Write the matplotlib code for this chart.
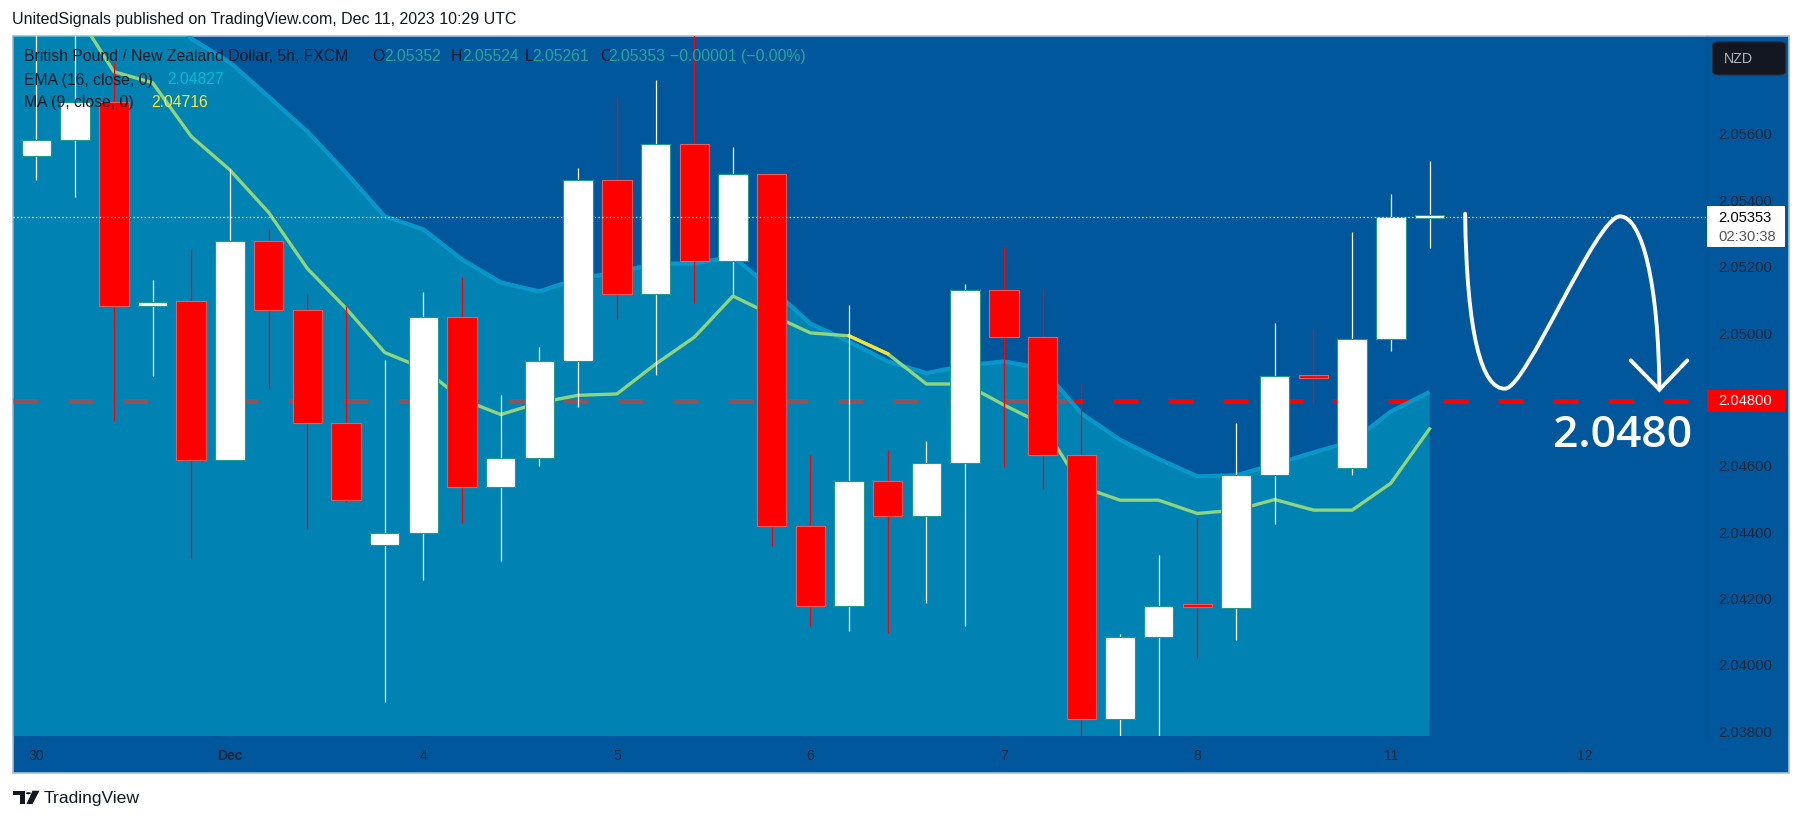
import numpy as np
import matplotlib
matplotlib.use("Agg")
import matplotlib.pyplot as plt
import matplotlib.transforms as mtransforms
from matplotlib.patches import Rectangle, FancyBboxPatch, Polygon, PathPatch, Circle
from matplotlib.path import Path

# GBPNZD 5h candles, FXCM
opens = [2.05539, 2.05586, 2.05702, 2.05087, 2.05102, 2.04621, 2.05282, 2.05073, 2.04734, 2.04365,
         2.04403, 2.05052, 2.04542, 2.04629, 2.04921, 2.05465, 2.05121, 2.05573, 2.05222, 2.05485,
         2.04422, 2.04183, 2.04558, 2.04452, 2.04614, 2.05134, 2.04993, 2.04637, 2.03841, 2.04090,
         2.04185, 2.04175, 2.04577, 2.04875, 2.04597, 2.04987, 2.05352]
highs = [2.05950, 2.05950, 2.05820, 2.05165, 2.05259, 2.05499, 2.05319, 2.05122, 2.05086, 2.04922,
         2.05127, 2.05173, 2.04817, 2.04964, 2.05503, 2.05715, 2.05768, 2.05950, 2.05564, 2.05485,
         2.04636, 2.05090, 2.04652, 2.04679, 2.05151, 2.05265, 2.05137, 2.04855, 2.04099, 2.04336,
         2.04447, 2.04733, 2.05036, 2.05016, 2.05310, 2.05422, 2.05524]
lows = [2.05465, 2.05415, 2.04739, 2.04875, 2.04325, 2.04621, 2.04835, 2.04414, 2.04495, 2.03893,
        2.04259, 2.04431, 2.04317, 2.04605, 2.04782, 2.05046, 2.04878, 2.05095, 2.05121, 2.04363,
        2.04121, 2.04107, 2.04102, 2.04190, 2.04121, 2.04602, 2.04535, 2.03770, 2.03790, 2.03780,
        2.04027, 2.04079, 2.04429, 2.04795, 2.04577, 2.04951, 2.05261]
closes = [2.05586, 2.05702, 2.05087, 2.05099, 2.04621, 2.05282, 2.05073, 2.04734, 2.04501, 2.04403,
          2.05052, 2.04542, 2.04629, 2.04921, 2.05465, 2.05121, 2.05573, 2.05222, 2.05485, 2.04422,
          2.04183, 2.04558, 2.04452, 2.04614, 2.05134, 2.04993, 2.04637, 2.03841, 2.04090, 2.04183,
          2.04178, 2.04577, 2.04874, 2.04869, 2.04987, 2.05353, 2.05353]

ema16 = [2.0636, 2.0627, 2.0617, 2.0604, 2.05892, 2.0582, 2.05717, 2.05612, 2.05488, 2.05356,
         2.05317, 2.05226, 2.05157, 2.0513, 2.05169, 2.05187, 2.05214, 2.05214, 2.05235, 2.05139,
         2.05033, 2.04979, 2.04919, 2.04884, 2.04907, 2.04919, 2.04898, 2.04763, 2.04683, 2.04625,
         2.04573, 2.04576, 2.04609, 2.04645, 2.04678, 2.04768, 2.04827]
ma9 = [2.0601, 2.05976, 2.05792, 2.05759, 2.05597, 2.05496, 2.05368, 2.05199, 2.05079, 2.04946,
       2.04898, 2.04805, 2.04759, 2.04795, 2.04817, 2.04821, 2.04911, 2.04992, 2.05116, 2.05059,
       2.05005, 2.04996, 2.04942, 2.04851, 2.04851, 2.04788, 2.0473, 2.04542, 2.04501, 2.04501,
       2.04461, 2.04471, 2.04503, 2.04471, 2.04471, 2.04552, 2.04716]

day_ticks = [0, 5, 10, 15, 20, 25, 30, 35, 40]
day_labels = ["30", "Dec", "4", "5", "6", "7", "8", "11", "12"]
price_ticks = [2.038, 2.040, 2.042, 2.044, 2.046, 2.048, 2.050, 2.052, 2.054, 2.056]
target = 2.048
countdown = "02:30:38"

W, H = 1803, 821
BG = "#00579c"
DARK = "#131722"
AXCOL = "#1a2436"
FONT = "Liberation Sans"

def fx(px):
    return px / W

def fy(py):
    return 1 - py / H

fig = plt.figure(figsize=(W / 100, H / 100), dpi=100)
fig.patch.set_facecolor("white")

# chart frame
fig.add_artist(Rectangle((fx(12.7), fy(773)), fx(1789) - fx(12.7), fy(36) - fy(773),
                         transform=fig.transFigure, fc=BG, ec="#a9bfd8", lw=1.2, zorder=-5))

ax = fig.add_axes([fx(13), fy(735.5), fx(1707) - fx(13), fy(36.5) - fy(735.5)])
ax.set_facecolor("none")
for s in ax.spines.values():
    s.set_visible(False)
ax.spines["right"].set_visible(True)
ax.spines["right"].set_color("#0a4f8e")
ax.spines["right"].set_linewidth(1)

x = np.arange(len(closes))
x0, x1 = -0.605, 43.17
y0, y1 = 2.03792, 2.05898
ax.set_xlim(x0, x1)
ax.set_ylim(y0, y1)

# target level
ax.axhline(target, color="#ff0000", lw=3.6, ls=(0, (5.0, 6.0)), zorder=1)

# EMA band
xe = np.r_[x0, x]
ye = np.r_[ema16[0], ema16]
ax.fill_between(xe, ye, 2.03, color=(0, 185 / 255, 207 / 255), alpha=0.45, lw=0, zorder=2)
ax.plot(xe, ye, color="#0a9ccf", lw=3, alpha=0.9, zorder=3, solid_capstyle="butt")

# MA line (one leg shown yellow)
ax.plot(x, ma9, color="#8fd47e", lw=2.4, zorder=4)
ax.plot(x[21:23], ma9[21:23], color="#f2e23a", lw=2.4, zorder=4.5)

# candles
bw = 0.76
for i in range(len(closes)):
    o, h, l, c = opens[i], highs[i], lows[i], closes[i]
    up = c >= o
    col = "white" if up else "#ff0000"
    ec = "#1d9a8c" if up else "#f25a5a"
    ax.vlines(i, l, h, color=col, lw=0.9, zorder=5)
    bot = min(o, c)
    hgt = max(abs(c - o), 0.00009)
    ax.add_patch(Rectangle((i - bw / 2, bot), bw, hgt, fc=col, ec=ec, lw=0.8, zorder=6))

# last price line
last = closes[-1]
ax.axhline(last, color="white", lw=0.9, ls=(0, (1, 2)), zorder=8)

# hand drawn projection
verts = [(36.92, 2.05364), (36.96, 2.05000), (37.35, 2.04835), (37.95, 2.04837),
         (38.50, 2.04837), (40.30, 2.05356), (40.92, 2.05356),
         (41.50, 2.05356), (41.92, 2.05150), (41.94, 2.04834)]
codes = [Path.MOVETO] + [Path.CURVE4] * 9
ax.add_patch(PathPatch(Path(verts, codes), fc="none", ec="white", lw=2.8,
                       capstyle="round", zorder=9))
ax.plot([41.20, 41.94, 42.66], [2.04922, 2.04834, 2.04922], color="white", lw=2.8,
        solid_capstyle="round", solid_joinstyle="miter", zorder=9)
ax.text(41.0, 2.04661, "2.0480", fontsize=32, color="white", ha="center", va="baseline",
        family="Open Sans", weight="semibold", zorder=9)

# time axis
ax.set_yticks([])
ax.set_xticks(day_ticks)
ax.set_xticklabels(day_labels, color=AXCOL, family=FONT, fontsize=10)
ax.tick_params(axis="x", length=0, pad=9.5, labelcolor=AXCOL)
ax.get_xticklabels()[1].set_fontweight("bold")

# price scale
bt = mtransforms.blended_transform_factory(fig.transFigure, ax.transData)
for p in price_ticks:
    fig.text(fx(1718), p, "%.5f" % p, transform=bt, fontsize=10.6, color=AXCOL,
             va="center", family=FONT, zorder=2)

pxp = (y1 - y0) / 699.0
fig.add_artist(Rectangle((fx(1706.5), last - 30 * pxp), fx(1784.5) - fx(1706.5), 41.5 * pxp,
                         transform=bt, fc="white", ec="none", zorder=3))
fig.text(fx(1718), last - 0.5 * pxp, "%.5f" % last, transform=bt, fontsize=10.6, color="black",
         va="center", family=FONT, zorder=4)
fig.text(fx(1718), last - 19.5 * pxp, countdown, transform=bt, fontsize=10.6, color="#555555",
         va="center", family=FONT, zorder=4)
fig.add_artist(Rectangle((fx(1706.5), target - 11 * pxp), fx(1784.5) - fx(1706.5), 21.5 * pxp,
                         transform=bt, fc="#ff0000", ec="none", zorder=3))
fig.text(fx(1718), target, "%.5f" % target, transform=bt, fontsize=10.6, color="white",
         va="center", family=FONT, zorder=4)

fig.add_artist(FancyBboxPatch((fx(1712.7), fy(75)), fx(1785.7) - fx(1712.7), fy(41.7) - fy(75),
                              boxstyle="round,pad=0,rounding_size=0.004",
                              transform=fig.transFigure, fc=DARK, ec="#2a2e39", lw=0.8, zorder=3))
fig.text(fx(1724), fy(59), "NZD", fontsize=10.2, color="#b2b5be", va="center", family=FONT, zorder=4)

# legend
lf = dict(fontsize=11.3, va="center", family=FONT)
teal = "#26a69a"
fig.text(fx(24.3), fy(56.7), "British Pound / New Zealand Dollar, 5h, FXCM", color=DARK, **lf)
for lab, lx, val, vx in [("O", 372.7, opens[-1], 384.6), ("H", 450.6, highs[-1], 462),
                         ("L", 525, lows[-1], 532.7), ("C", 600, closes[-1], 608.5)]:
    fig.text(fx(lx), fy(56.7), lab, color=DARK, **lf)
    fig.text(fx(vx), fy(56.7), "%.5f" % val, color=teal, **lf)
chg = closes[-1] - opens[-1]
fig.text(fx(670.5), fy(56.7), "\u2212%.5f (\u2212%.2f%%)" % (abs(chg), abs(chg) / opens[-1] * 100),
         color=teal, **lf)
fig.text(fx(24.3), fy(80), "EMA (16, close, 0)", color=DARK, **lf)
fig.text(fx(167.7), fy(80), "%.5f" % ema16[-1], color="#00bcd4", **lf)
fig.text(fx(24.3), fy(102.7), "MA (9, close, 0)", color=DARK, **lf)
fig.text(fx(151.7), fy(102.7), "%.5f" % ma9[-1], color="#ffeb3b", **lf)

# header / footer
fig.text(fx(12.5), fy(19.5), "UnitedSignals published on TradingView.com, Dec 11, 2023 10:29 UTC",
         fontsize=11.5, color=DARK, va="center", family=FONT)
fig.add_artist(Polygon([(fx(13.3), fy(790.7)), (fx(25), fy(790.7)), (fx(25), fy(804)), (fx(20), fy(804)),
                        (fx(20), fy(795.2)), (fx(13.3), fy(795.2))], closed=True,
                       transform=fig.transFigure, fc=DARK, ec="none"))
fig.add_artist(Circle((fx(28.4), fy(793.2)), 2.4 / W, transform=fig.transFigure, fc=DARK, ec="none"))
fig.add_artist(Polygon([(fx(32.5), fy(790.7)), (fx(39.5), fy(790.7)), (fx(32.5), fy(804)),
                        (fx(26.5), fy(804))],
                       closed=True, transform=fig.transFigure, fc=DARK, ec="none"))
fig.text(fx(44), fy(798), "TradingView", fontsize=12.6, color=DARK, va="center", family=FONT)

fig.savefig("out.png", dpi=100)
